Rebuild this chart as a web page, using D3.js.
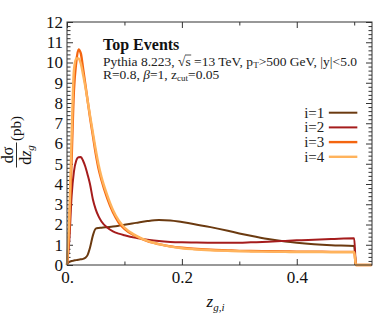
<!DOCTYPE html>
<html>
<head>
<meta charset="utf-8">
<script src="https://cdn.jsdelivr.net/npm/d3@7"></script>
<style>
  body { margin: 0; background: #fff; }
  svg { display: block; font-family: "Liberation Serif", serif; }
</style>
</head>
<body>
<div id="chart"></div>
<script>
// z grid shared by all four curves
var zVals = [0, 0.004, 0.008, 0.012, 0.016, 0.02, 0.024, 0.028, 0.032, 0.036, 0.04, 0.045,
  0.05, 0.055, 0.06, 0.07, 0.08, 0.09, 0.1, 0.12, 0.14, 0.16, 0.18, 0.2, 0.22, 0.25,
  0.28, 0.3, 0.32, 0.35, 0.38, 0.4, 0.43, 0.46, 0.5, 0.503, 0.53];

var i1 = [0.05, 0.15, 0.2, 0.22, 0.24, 0.26, 0.28, 0.3, 0.36, 0.5, 0.85, 1.45,
  1.8, 1.83, 1.84, 1.87, 1.9, 1.94, 1.99, 2.08, 2.17, 2.22, 2.2, 2.12, 2.03, 1.87,
  1.69, 1.56, 1.44, 1.28, 1.16, 1.1, 1.03, 0.98, 0.94, 0, 0];
var i2 = [0, 1.2, 3.4, 4.6, 5.15, 5.32, 5.33, 5.15, 4.85, 4.45, 4.0, 3.25,
  2.75, 2.4, 2.15, 1.85, 1.66, 1.55, 1.47, 1.34, 1.25, 1.18, 1.14, 1.12, 1.11, 1.1,
  1.1, 1.1, 1.12, 1.15, 1.19, 1.22, 1.25, 1.28, 1.32, 0, 0];
var i3 = [0, 1.8, 5.2, 8.6, 10.0, 10.65, 10.45, 9.7, 8.9, 8.1, 7.3, 6.4,
  5.5, 4.75, 4.2, 3.3, 2.6, 2.1, 1.78, 1.42, 1.18, 1.03, 0.92, 0.85, 0.8, 0.75,
  0.72, 0.7, 0.69, 0.68, 0.67, 0.66, 0.66, 0.65, 0.65, 0, 0];
var i4 = [0, 2.4, 6.3, 9.6, 10.2, 10.2, 9.95, 9.4, 8.8, 8.1, 7.4, 6.55,
  5.7, 4.95, 4.35, 3.45, 2.72, 2.2, 1.85, 1.45, 1.19, 1.03, 0.91, 0.83, 0.78, 0.73,
  0.7, 0.68, 0.67, 0.66, 0.65, 0.64, 0.64, 0.63, 0.63, 0, 0];

var seriesNames = ["i=1", "i=2", "i=3", "i=4"];
var seriesVals = [i1, i2, i3, i4];
var colors = ["#6b3a10", "#a51c1c", "#f4650f", "#ffb35c"];
var widths = [2, 2, 2.4, 2.4];

var xMajor = [0, 0.2, 0.4];
var xMinor = [0.1, 0.3, 0.5];
var yMajor = d3.range(0, 13);

var margin = { top: 22, right: 2, bottom: 50, left: 67 },
  W = 374, H = 315,
  width = W - margin.left - margin.right,
  height = H - margin.top - margin.bottom;

var svg = d3.select("#chart").append("svg")
  .attr("width", W).attr("height", H);

var g = svg.append("g")
  .attr("transform", "translate(" + margin.left + "," + margin.top + ")");

var x = d3.scaleLinear().domain([0, 0.531]).range([0, width]);
var y = d3.scaleLinear().domain([0, 12]).range([height, 0]);

var yMinor = d3.range(0, 12.01, 0.2).filter(function (v) {
  return Math.abs(v - Math.round(v)) > 0.01;
});

function styleAxis(sel) {
  sel.select(".domain").remove();
  sel.selectAll("line").attr("stroke", "#333").attr("stroke-width", 1);
  sel.selectAll("text").attr("font-size", 17).attr("fill", "#111")
    .attr("font-family", "Liberation Serif, serif");
}

// bottom
g.append("g").attr("transform", "translate(0," + height + ")")
  .call(d3.axisBottom(x).tickValues(xMajor).tickSize(-6).tickPadding(6)
    .tickFormat(function (d) { return d === 0 ? "0." : d3.format(".1f")(d); }))
  .call(styleAxis);
g.append("g").attr("transform", "translate(0," + height + ")")
  .call(d3.axisBottom(x).tickValues(xMinor).tickSize(-3.5).tickFormat(""))
  .call(styleAxis);
// top
g.append("g")
  .call(d3.axisTop(x).tickValues(xMajor).tickSize(-6).tickFormat(""))
  .call(styleAxis);
g.append("g")
  .call(d3.axisTop(x).tickValues(xMinor).tickSize(-3.5).tickFormat(""))
  .call(styleAxis);
// left
g.append("g")
  .call(d3.axisLeft(y).tickValues(yMajor).tickSize(-6).tickPadding(4))
  .call(styleAxis);
g.append("g")
  .call(d3.axisLeft(y).tickValues(yMinor).tickSize(-3.5).tickFormat(""))
  .call(styleAxis);
// right
g.append("g").attr("transform", "translate(" + width + ",0)")
  .call(d3.axisRight(y).tickValues(yMajor).tickSize(-6).tickFormat(""))
  .call(styleAxis);
g.append("g").attr("transform", "translate(" + width + ",0)")
  .call(d3.axisRight(y).tickValues(yMinor).tickSize(-3.5).tickFormat(""))
  .call(styleAxis);

// curves
var line = d3.line()
  .x(function (d) { return x(d[0]); })
  .y(function (d) { return y(d[1]); })
  .curve(d3.curveMonotoneX);

seriesVals.forEach(function (vals, k) {
  g.append("path")
    .datum(zVals.map(function (z, j) { return [z, vals[j]]; }))
    .attr("fill", "none")
    .attr("stroke", colors[k])
    .attr("stroke-width", widths[k])
    .attr("stroke-linejoin", "round")
    .attr("d", line);
});

// frame
g.append("rect")
  .attr("width", width).attr("height", height)
  .attr("fill", "none").attr("stroke", "#333").attr("stroke-width", 1);

// annotations
g.append("text").attr("x", 36).attr("y", 28)
  .attr("font-size", 16).attr("font-weight", "bold").attr("fill", "#111")
  .text("Top Events");

var t2 = g.append("text").attr("x", 36).attr("y", 44)
  .attr("font-size", 13.5).attr("fill", "#222");
t2.append("tspan").text("Pythia 8.223, \u221A");
t2.append("tspan").text("s");
t2.append("tspan").text(" =13 TeV, p");
t2.append("tspan").attr("font-size", 9).attr("dy", 2).text("T");
t2.append("tspan").attr("dy", -2).text(">500 GeV, |y|<5.0");

// overline for the square root
var tn = t2.node();
var si = tn.textContent.indexOf("\u221As") + 1;
var r0 = tn.getStartPositionOfChar(si - 1), p1 = tn.getEndPositionOfChar(si);
g.append("line")
  .attr("x1", r0.x + 7).attr("x2", p1.x + 0.5)
  .attr("y1", 44 - 11).attr("y2", 44 - 11)
  .attr("stroke", "#222").attr("stroke-width", 0.8);

var t3 = g.append("text").attr("x", 36).attr("y", 57)
  .attr("font-size", 13.5).attr("fill", "#222");
t3.append("tspan").text("R=0.8, ");
t3.append("tspan").attr("font-style", "italic").text("\u03B2");
t3.append("tspan").text("=1, z");
t3.append("tspan").attr("font-size", 9).attr("dy", 2).text("cut");
t3.append("tspan").attr("dy", -2).text("=0.05");

// legend
var leg = g.append("g").attr("transform", "translate(" + (x(0.448)) + "," + 90.7 + ")");
seriesNames.forEach(function (name, k) {
  var row = leg.append("g").attr("transform", "translate(0," + (k * 14.7) + ")");
  row.append("text").attr("x", 0).attr("y", 5)
    .attr("text-anchor", "end").attr("font-size", 15).attr("fill", "#222")
    .text(name);
  row.append("line").attr("x1", 4.5).attr("x2", 33)
    .attr("stroke", colors[k]).attr("stroke-width", widths[k]);
});

// x title
var xt = svg.append("text")
  .attr("x", margin.left + width / 2 - 4).attr("y", 307)
  .attr("text-anchor", "middle").attr("font-size", 17)
  .attr("font-style", "italic").attr("fill", "#111");
xt.append("tspan").text("z");
xt.append("tspan").attr("font-size", 11).attr("dy", 4).text("g,i");

// y title (rotated fraction)
var yt = svg.append("g").attr("transform", "translate(0,155) rotate(-90)");
yt.append("text").attr("x", 0).attr("y", 13).attr("text-anchor", "middle")
  .attr("font-size", 16).attr("fill", "#111").text("d\u03C3");
yt.append("line").attr("x1", -12.5).attr("x2", 12.5).attr("y1", 16.5).attr("y2", 16.5)
  .attr("stroke", "#111").attr("stroke-width", 0.9);
var den = yt.append("text").attr("x", 0).attr("y", 31).attr("text-anchor", "middle")
  .attr("font-size", 16).attr("fill", "#111");
den.append("tspan").text("d");
den.append("tspan").attr("font-style", "italic").text("z");
den.append("tspan").attr("font-style", "italic").attr("font-size", 11).attr("dy", 3).text("g");
yt.append("text").attr("x", 14).attr("y", 21).attr("text-anchor", "start")
  .attr("font-size", 15).attr("fill", "#111").text("(pb)");
</script>
</body>
</html>
